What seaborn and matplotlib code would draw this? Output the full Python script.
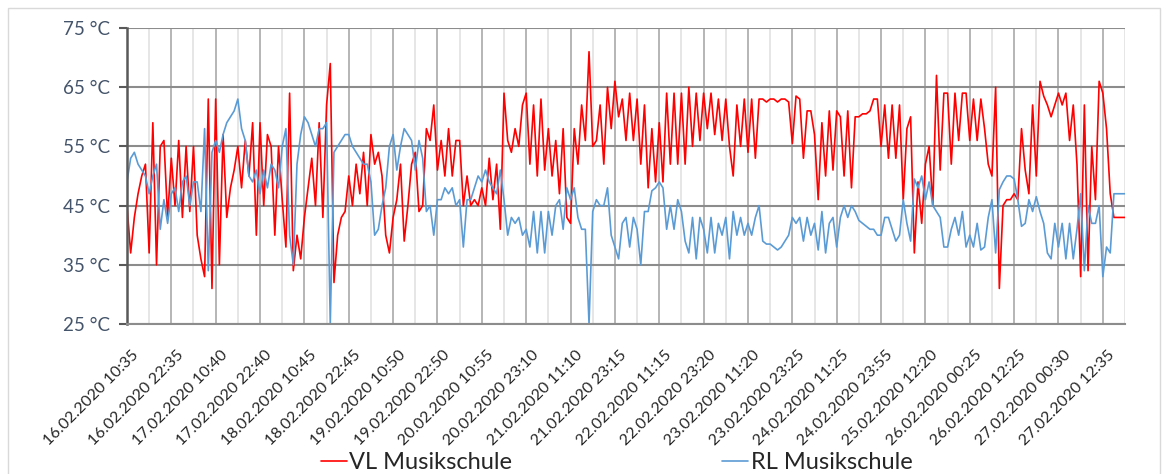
import numpy as np
import pandas as pd
import matplotlib
matplotlib.use("Agg")
import matplotlib.pyplot as plt
import matplotlib.transforms as mtrans
import seaborn as sns
from matplotlib.patches import Rectangle

# Stundenwerte (ca.), in °C
vl_musikschule = [
    45, 37, 43, 47, 50, 52, 37, 59, 35, 55,
    56, 43, 53, 45, 56, 43, 55, 44, 55, 40,
    36, 33, 63, 31, 63, 35, 57, 43, 48, 51,
    55, 48, 56, 50, 59, 40, 59, 45, 57, 55,
    40, 55, 46, 38, 64, 34, 40, 36, 43, 48,
    53, 45, 59, 43, 62, 69, 32, 40, 43, 44,
    50, 45, 52, 47, 54, 45, 57, 52, 54, 50,
    40, 37, 43, 46, 52, 39, 45, 52, 54, 44,
    45, 58, 56, 62, 51, 56, 50, 58, 50, 56,
    56, 45, 50, 45, 46, 45, 48, 45, 53, 46,
    52, 41, 64, 56, 54, 58, 55, 62, 64, 52,
    62, 50, 63, 51, 58, 50, 56, 47, 58, 43,
    42, 58, 52, 62, 56, 71, 55, 56, 62, 52,
    65, 58, 66, 60, 63, 56, 64, 56, 63, 52,
    62, 48, 58, 49, 59, 49, 64, 52, 64, 52,
    64, 52, 65, 55, 64, 56, 64, 58, 64, 57,
    63, 56, 63, 55, 50, 62, 55, 63, 54, 63,
    53, 63, 63, 62.5, 63, 63, 62.5, 63, 63, 62.5,
    55.5, 63.5, 63, 53, 61, 61, 57, 46, 59, 50,
    61, 51, 61, 60, 50, 61, 48, 60, 60, 60.5,
    60.5, 61, 63, 63, 55, 62, 53, 62, 53, 62,
    46, 58, 60, 37, 49, 42, 52, 55, 45, 67,
    51, 64, 64, 52, 64, 56, 64, 64, 56, 63,
    56, 63, 58, 52, 50, 65, 31, 45, 46, 46,
    47, 46, 58, 51, 47, 62, 50, 66, 63.5, 62,
    60, 62, 64, 62, 64, 56, 62, 52, 33, 62,
    34, 55, 46, 66, 64, 58, 47, 43, 43, 43,
    43,
]

rl_musikschule = [
    49, 53, 54, 52, 51, 50, 47, 50, 52, 41,
    46, 42, 47, 48, 44, 49, 50, 45, 49, 49,
    44, 58, 34, 54, 56, 54, 57, 59, 60, 61,
    63, 58, 56, 50, 49, 51, 47, 51, 48, 52,
    51, 48, 55, 58, 40, 35, 52, 57, 60, 59,
    57, 55, 58, 58, 59, 25, 54, 55, 56, 57,
    57, 55, 54, 53, 52, 52, 49, 40, 41, 45,
    48, 55, 57, 51, 55, 58, 57, 56, 51, 56,
    53, 44, 45, 40, 46, 46, 48, 47, 48, 45,
    46, 38, 46, 46, 48, 50, 49, 51, 49, 48,
    47, 51, 46, 40, 43, 42, 43, 40, 41, 38,
    44, 37, 44, 37, 44, 40, 45, 46, 41, 48,
    46, 48, 43, 41, 41, 25, 44, 46, 45, 45,
    48, 40, 38, 36, 42, 43, 38, 43, 41, 35,
    44, 44, 47.5, 48, 49, 48, 41, 45, 41, 46,
    44, 39, 37, 43, 36, 43, 41, 37, 43, 37,
    42, 40, 43, 36, 44, 40, 43, 40, 42, 40,
    43, 45, 39, 38.5, 38.5, 38, 37.5, 38, 39, 40,
    43, 42, 43, 39, 43, 40, 42, 37.5, 44, 37,
    42, 43, 38, 43, 45, 43, 45, 44, 42.5, 42,
    41.5, 41, 41, 40, 40, 43, 43, 41, 39, 40,
    46, 42, 39, 49.5, 48, 50, 46, 49, 45, 44,
    43, 38, 38, 41, 43, 40, 44, 38, 40, 38,
    42, 37.5, 38, 43, 46, 37, 47.7, 49, 50, 50,
    49.5, 46, 41.5, 42, 46, 44, 46.5, 44, 42, 37,
    36, 42, 38, 42, 36, 42, 36, 41, 47, 34,
    45, 42, 42, 45, 33, 38, 37, 47, 47, 47,
    47,
]

date_labels = [
    "16.02.2020 10:35", "16.02.2020 22:35", "17.02.2020 10:40", "17.02.2020 22:40",
    "18.02.2020 10:45", "18.02.2020 22:45", "19.02.2020 10:50", "19.02.2020 22:50",
    "20.02.2020 10:55", "20.02.2020 23:10", "21.02.2020 11:10", "21.02.2020 23:15",
    "22.02.2020 11:15", "22.02.2020 23:20", "23.02.2020 11:20", "23.02.2020 23:25",
    "24.02.2020 11:25", "24.02.2020 23:55", "25.02.2020 12:20", "26.02.2020 00:25",
    "26.02.2020 12:25", "27.02.2020 00:30", "27.02.2020 12:35",
]
y_ticks = [25, 35, 45, 55, 65, 75]

sns.set_theme(style="white")
plt.rcParams['font.family'] = ['Lato', 'DejaVu Sans']

df = pd.DataFrame({
    "stunde": np.arange(len(vl_musikschule)),
    "VL Musikschule": vl_musikschule,
    "RL Musikschule": rl_musikschule,
})

fig = plt.figure(figsize=(11.68, 4.74), dpi=100)
fig.patches.append(Rectangle((8 / 1168, -0.1), 1152 / 1168, 1.083, transform=fig.transFigure,
                             fill=False, edgecolor="#D9D9D9", lw=1))
ax = fig.add_axes([0.1087, 0.3165, 0.8545, 0.6244])

sns.lineplot(data=df, x="stunde", y="VL Musikschule", color="#FF0000", lw=1.2, ax=ax,
             label="VL Musikschule", legend=False)
sns.lineplot(data=df, x="stunde", y="RL Musikschule", color="#5B9BD5", lw=1.2, ax=ax,
             label="RL Musikschule", legend=False)

ax.set_xlim(0, 269.7)
ax.set_ylim(25, 75)
ax.set_xlabel("")
ax.set_ylabel("")

ax.set_xticks(np.arange(len(date_labels)) * 12)
ax.set_xticks(np.arange(len(date_labels)) * 12 + 6, minor=True)
ax.set_xticklabels(date_labels, rotation=45, ha="right", va="top", rotation_mode="anchor")
ax.set_yticks(y_ticks)
ax.set_yticklabels([f"{t} °C" for t in y_ticks])

ax.grid(which="major", axis="x", color="#B0B0B0", lw=1.3)
ax.grid(which="minor", axis="x", color="#E4E4E4", lw=1.3)
ax.grid(which="major", axis="y", color="#8C8C8C", lw=1.5)
ax.set_axisbelow(True)

for s in ["top", "right"]:
    ax.spines[s].set_visible(False)
ax.spines["left"].set_color("#595959")
ax.spines["left"].set_linewidth(1.8)
ax.spines["bottom"].set_color("#8C8C8C")
ax.spines["bottom"].set_linewidth(1.5)

ax.tick_params(axis="y", direction="out", length=6, width=1.5, color="#595959",
               labelcolor="#44546A", labelsize=13.5, pad=6, left=True)
ax.tick_params(axis="x", which="both", length=0, labelsize=11.5, labelcolor="#262626", pad=17)

# the rotated labels end a few pixels right of their gridline
shift = mtrans.ScaledTranslation(5 / 100, 0, fig.dpi_scale_trans)
for lbl in ax.get_xticklabels():
    lbl.set_transform(lbl.get_transform() + shift)

handles = ax.lines[:2]
fig.legend(handles, ["VL Musikschule", "RL Musikschule"], loc="center",
           bbox_to_anchor=(0.528, 0.024), ncol=2, frameon=False, fontsize=17,
           handlelength=1.1, handletextpad=0.1, columnspacing=8.9)

fig.savefig("out.png", dpi=100)
